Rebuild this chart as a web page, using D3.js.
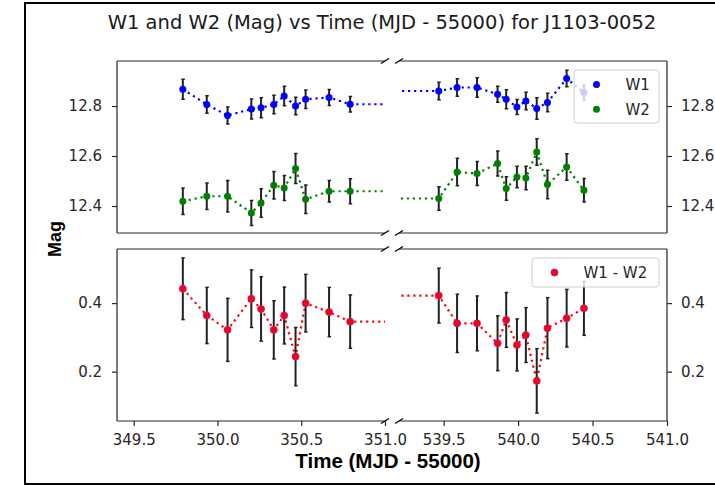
<!DOCTYPE html>
<html><head><meta charset="utf-8">
<script src="https://cdn.jsdelivr.net/npm/d3@7"></script>
<style>body{margin:0;background:#fff} svg{display:block}</style>
</head><body><svg id="c" width="715" height="485"></svg>
<script>
// ---- data ----
const time = [349.793, 349.936, 350.060, 350.202, 350.260, 350.336, 350.398, 350.466, 350.526, 350.666, 350.792,
              539.467, 539.590, 539.724, 539.862, 539.920, 539.992, 540.052, 540.125, 540.197, 540.326, 540.442];
const w1 = [12.867, 12.806, 12.762, 12.788, 12.793, 12.806, 12.840, 12.800, 12.827, 12.834, 12.807,
            12.860, 12.874, 12.874, 12.847, 12.827, 12.796, 12.820, 12.790, 12.814, 12.910, 12.854];
const w1Err = [0.040, 0.035, 0.034, 0.040, 0.040, 0.037, 0.039, 0.035, 0.037, 0.032, 0.031,
               0.035, 0.035, 0.039, 0.032, 0.038, 0.030, 0.035, 0.043, 0.037, 0.033, 0.030];
const w2 = [12.419, 12.439, 12.439, 12.372, 12.412, 12.483, 12.472, 12.550, 12.427, 12.459, 12.459,
            12.430, 12.536, 12.530, 12.570, 12.470, 12.516, 12.512, 12.616, 12.486, 12.556, 12.463];
const w2Err = [0.053, 0.053, 0.063, 0.050, 0.057, 0.055, 0.050, 0.060, 0.057, 0.043, 0.050,
               0.047, 0.055, 0.048, 0.050, 0.047, 0.043, 0.047, 0.053, 0.057, 0.053, 0.047];
const diff = [0.442, 0.364, 0.322, 0.413, 0.383, 0.322, 0.364, 0.244, 0.400, 0.374, 0.346,
              0.422, 0.341, 0.341, 0.283, 0.351, 0.278, 0.307, 0.173, 0.327, 0.356, 0.385];
const diffErr = [0.090, 0.082, 0.092, 0.084, 0.094, 0.085, 0.083, 0.085, 0.084, 0.072, 0.078,
                 0.080, 0.085, 0.080, 0.080, 0.080, 0.076, 0.080, 0.094, 0.089, 0.084, 0.079];
const xDomainLeft = [349.4, 351.0];
const xDomainRight = [539.2, 541.0];
const xTicksLeft = [349.5, 350.0, 350.5, 351.0];
const xTicksRight = [539.5, 540.0, 540.5, 541.0];
const yDomainTop = [12.292, 12.98];
const yDomainBottom = [0.056, 0.558];
const yTicksTop = [12.4, 12.6, 12.8];
const yTicksBottom = [0.2, 0.4];
const titleText = "W1 and W2 (Mag) vs Time (MJD - 55000) for J1103-0052";
const xLabel = "Time (MJD - 55000)";
const yLabel = "Mag";

// ---- layout ----
const svg = d3.select("#c");
const PL = [117, 385], PR = [399, 667];
const RT = [61, 233], RB = [249, 421];
const tickFont = "'DejaVu Sans', sans-serif";
const ink = "#262626";

svg.append("rect").attr("x", 25).attr("y", 3).attr("width", 720).attr("height", 481)
  .attr("fill", "none").attr("stroke", "#000").attr("stroke-width", 2);

const xL = d3.scaleLinear().domain(xDomainLeft).range(PL);
const xR = d3.scaleLinear().domain(xDomainRight).range(PR);
const yT = d3.scaleLinear().domain(yDomainTop).range([RT[1], RT[0]]);
const yB = d3.scaleLinear().domain(yDomainBottom).range([RB[1], RB[0]]);

const defs = svg.append("defs");
let clipId = 0;
function panel(xs, ys, rows, side) {
  const id = "clip" + (clipId++);
  const [x0, x1] = xs.range();
  const y0 = ys.range()[1], y1 = ys.range()[0];
  defs.append("clipPath").attr("id", id).append("rect")
    .attr("x", x0).attr("y", y0).attr("width", x1 - x0).attr("height", y1 - y0);
  const g = svg.append("g").attr("clip-path", `url(#${id})`);
  const pts = time.map((t, i) => i);
  rows.forEach(r => {
    const line = d3.line().x(i => xs(time[i])).y(i => ys(r.v[i]));
    g.append("path").attr("d", line(pts)).attr("fill", "none")
      .attr("stroke", r.color).attr("stroke-width", 2.2).attr("stroke-dasharray", "2.2,3.8");
  });
  rows.forEach(r => {
    pts.forEach(i => {
      const cx = xs(time[i]);
      const ya = ys(r.v[i] - r.e[i]), yb = ys(r.v[i] + r.e[i]);
      g.append("line").attr("x1", cx).attr("x2", cx).attr("y1", ya).attr("y2", yb)
        .attr("stroke", "#222").attr("stroke-width", 2);
      [ya, yb].forEach(yy => g.append("line").attr("x1", cx - 1.5).attr("x2", cx + 2)
        .attr("y1", yy).attr("y2", yy).attr("stroke", "#222").attr("stroke-width", 1.5));
    });
  });
  rows.forEach(r => {
    g.selectAll(null).data(pts).enter().append("circle")
      .attr("cx", i => xs(time[i])).attr("cy", i => ys(r.v[i])).attr("r", 3.5)
      .attr("fill", r.color).attr("stroke", r.edge || r.color).attr("stroke-width", r.edge ? 0.9 : 0);
  });
  // spines
  const sp = svg.append("g").attr("stroke", ink).attr("stroke-width", 1.2).attr("fill", "none");
  sp.append("line").attr("x1", x0).attr("x2", x1).attr("y1", y0).attr("y2", y0);
  sp.append("line").attr("x1", x0).attr("x2", x1).attr("y1", y1).attr("y2", y1);
  const xv = side === "left" ? x0 : x1;
  sp.append("line").attr("x1", xv).attr("x2", xv).attr("y1", y0).attr("y2", y1);
  // break marks
  const bx = side === "left" ? x1 : x0;
  [y0, y1].forEach(yy => svg.append("line").attr("x1", bx - 4).attr("y1", yy + 2.6)
    .attr("x2", bx + 4).attr("y2", yy - 2.6).attr("stroke", "#000").attr("stroke-width", 1.2));
}

const topRows = [
  {v: w1, e: w1Err, color: "#0000ff"},
  {v: w2, e: w2Err, color: "#008000"}
];
const botRows = [{v: diff, e: diffErr, color: "#ff0000", edge: "#b0209c"}];
panel(xL, yT, topRows, "left");
panel(xR, yT, topRows, "right");
panel(xL, yB, botRows, "left");
panel(xR, yB, botRows, "right");

function styleAxis(g) {
  g.select(".domain").remove();
  g.selectAll(".tick line").attr("stroke", ink).attr("stroke-width", 1.2);
  g.selectAll(".tick text").attr("fill", ink).style("font-family", tickFont).style("font-size", "15px");
}
const f1 = d3.format(".1f");
svg.append("g").attr("transform", `translate(${PL[0]},0)`)
  .call(d3.axisLeft(yT).tickValues(yTicksTop).tickSize(5).tickPadding(10).tickFormat(f1)).call(styleAxis);
svg.append("g").attr("transform", `translate(${PR[1]},0)`)
  .call(d3.axisRight(yT).tickValues(yTicksTop).tickSize(5).tickPadding(9).tickFormat(f1)).call(styleAxis);
svg.append("g").attr("transform", `translate(${PL[0]},0)`)
  .call(d3.axisLeft(yB).tickValues(yTicksBottom).tickSize(5).tickPadding(10).tickFormat(f1)).call(styleAxis);
svg.append("g").attr("transform", `translate(${PR[1]},0)`)
  .call(d3.axisRight(yB).tickValues(yTicksBottom).tickSize(5).tickPadding(9).tickFormat(f1)).call(styleAxis);
svg.append("g").attr("transform", `translate(0,${RB[1]})`)
  .call(d3.axisBottom(xL).tickValues(xTicksLeft).tickSize(5).tickPadding(8).tickFormat(f1)).call(styleAxis);
svg.append("g").attr("transform", `translate(0,${RB[1]})`)
  .call(d3.axisBottom(xR).tickValues(xTicksRight).tickSize(5).tickPadding(8).tickFormat(f1)).call(styleAxis);

// legends
function legend(x, y, w, h, items) {
  const g = svg.append("g");
  g.append("rect").attr("x", x).attr("y", y).attr("width", w).attr("height", h).attr("rx", 3)
    .attr("fill", "#fff").attr("fill-opacity", 0.8).attr("stroke", "#cccccc").attr("stroke-width", 1);
  items.forEach((it, k) => {
    const cy = y + 14.5 + k * 24.7;
    g.append("circle").attr("cx", x + 22.5).attr("cy", cy).attr("r", 3.5).attr("fill", it.color)
      .attr("stroke", it.edge || it.color).attr("stroke-width", it.edge ? 0.9 : 0);
    g.append("text").attr("x", x + 51.5).attr("y", cy).attr("dy", "0.36em").text(it.label)
      .attr("fill", ink).style("font-family", tickFont).style("font-size", "15px");
  });
}
legend(574, 70, 85, 53, [{label: "W1", color: "#0000ff"}, {label: "W2", color: "#008000"}]);
legend(532, 258, 127, 29, [{label: "W1 - W2", color: "#ff0000", edge: "#b0209c"}]);

// texts
svg.append("text").attr("x", 382).attr("y", 29).attr("text-anchor", "middle").text(titleText)
  .attr("fill", "#1a1a1a").style("font-family", tickFont).style("font-size", "19.5px");
svg.append("text").attr("x", 388).attr("y", 468).attr("text-anchor", "middle").text(xLabel)
  .attr("fill", "#000").style("font-family", "'Liberation Sans', Arial, sans-serif")
  .style("font-size", "20.5px").style("font-weight", "bold");
svg.append("text").attr("transform", "translate(61,239) rotate(-90)").attr("text-anchor", "middle").text(yLabel)
  .attr("fill", "#000").style("font-family", "'Liberation Sans', Arial, sans-serif")
  .style("font-size", "18px").style("font-weight", "bold");
</script></body></html>
